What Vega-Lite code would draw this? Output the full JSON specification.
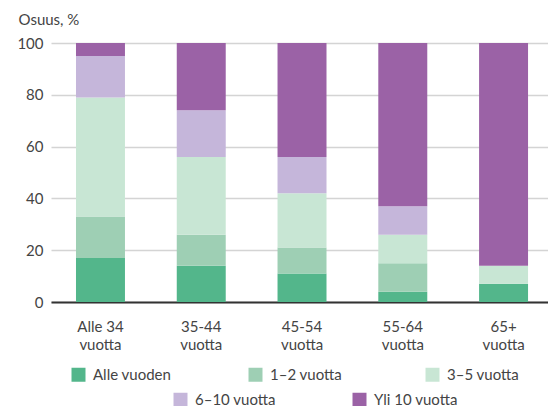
{
  "$schema": "https://vega.github.io/schema/vega-lite/v6.json",
  "width": 497,
  "height": 259,
  "autosize": {"type": "none"},
  "padding": {"left": 51, "top": 43, "right": 0, "bottom": 104},
  "background": "white",
  "config": {
    "view": {"stroke": null},
    "font": "Lato",
    "legend": {
      "symbolType": "square",
      "symbolSize": 196,
      "symbolStrokeWidth": 0,
      "labelFontSize": 15,
      "labelColor": "#444",
      "labelOffset": 7,
      "padding": 0
    }
  },
  "data": {
    "values": [
      {"age": "Alle 34 vuotta", "k": "Alle vuoden", "v": 17},
      {"age": "Alle 34 vuotta", "k": "1–2 vuotta", "v": 16},
      {"age": "Alle 34 vuotta", "k": "3–5 vuotta", "v": 46},
      {"age": "Alle 34 vuotta", "k": "6–10 vuotta", "v": 16},
      {"age": "Alle 34 vuotta", "k": "Yli 10 vuotta", "v": 5},
      {"age": "35-44 vuotta", "k": "Alle vuoden", "v": 14},
      {"age": "35-44 vuotta", "k": "1–2 vuotta", "v": 12},
      {"age": "35-44 vuotta", "k": "3–5 vuotta", "v": 30},
      {"age": "35-44 vuotta", "k": "6–10 vuotta", "v": 18},
      {"age": "35-44 vuotta", "k": "Yli 10 vuotta", "v": 26},
      {"age": "45-54 vuotta", "k": "Alle vuoden", "v": 11},
      {"age": "45-54 vuotta", "k": "1–2 vuotta", "v": 10},
      {"age": "45-54 vuotta", "k": "3–5 vuotta", "v": 21},
      {"age": "45-54 vuotta", "k": "6–10 vuotta", "v": 14},
      {"age": "45-54 vuotta", "k": "Yli 10 vuotta", "v": 44},
      {"age": "55-64 vuotta", "k": "Alle vuoden", "v": 4},
      {"age": "55-64 vuotta", "k": "1–2 vuotta", "v": 11},
      {"age": "55-64 vuotta", "k": "3–5 vuotta", "v": 11},
      {"age": "55-64 vuotta", "k": "6–10 vuotta", "v": 11},
      {"age": "55-64 vuotta", "k": "Yli 10 vuotta", "v": 63},
      {"age": "65+ vuotta", "k": "Alle vuoden", "v": 7},
      {"age": "65+ vuotta", "k": "1–2 vuotta", "v": 0},
      {"age": "65+ vuotta", "k": "3–5 vuotta", "v": 7},
      {"age": "65+ vuotta", "k": "6–10 vuotta", "v": 0},
      {"age": "65+ vuotta", "k": "Yli 10 vuotta", "v": 86}
    ]
  },
  "transform": [
    {"calculate": "indexof(['Alle vuoden','1–2 vuotta','3–5 vuotta','6–10 vuotta','Yli 10 vuotta'], datum.k)", "as": "ord"},
    {"stack": "v", "groupby": ["age"], "sort": [{"field": "ord", "order": "ascending"}], "as": ["y0", "y1"]}
  ],
  "encoding": {
    "x": {
      "field": "age",
      "type": "nominal",
      "sort": ["Alle 34 vuotta", "35-44 vuotta", "45-54 vuotta", "55-64 vuotta", "65+ vuotta"],
      "scale": {"paddingInner": 0.514, "paddingOuter": 0.223, "align": 0.556},
      "axis": {
        "title": null,
        "labelAngle": 0,
        "ticks": false,
        "domainColor": "#333",
        "domainWidth": 2,
        "labelFontSize": 15,
        "labelColor": "#444",
        "labelPadding": 17,
        "labelLineHeight": 18,
        "labelExpr": "[replace(datum.value, ' vuotta', ''), 'vuotta']"
      }
    },
    "y": {
      "field": "y0",
      "type": "quantitative",
      "scale": {"domain": [0, 100]},
      "axis": {
        "values": [0, 20, 40, 60, 80, 100],
        "title": "Osuus, %",
        "titleAngle": 0,
        "titleAlign": "left",
        "titleBaseline": "alphabetic",
        "titleX": -33,
        "titleY": -19,
        "titleFontWeight": "normal",
        "titleFontSize": 15,
        "titleColor": "#444",
        "domain": false,
        "ticks": false,
        "labelPadding": 8,
        "labelFontSize": 15,
        "labelColor": "#444",
        "gridColor": "#d4d4d4",
        "gridWidth": 1.5
      }
    },
    "y2": {"field": "y1"}
  },
  "layer": [
    {
      "transform": [{"filter": "datum.ord < 3"}],
      "mark": {"type": "bar"},
      "encoding": {
        "fill": {
          "field": "k",
          "type": "nominal",
          "scale": {"domain": ["Alle vuoden", "1–2 vuotta", "3–5 vuotta"], "range": ["#53b68b", "#9ecfb4", "#c8e6d4"]},
          "legend": {"orient": "none", "legendX": 20, "legendY": 324, "direction": "horizontal", "columns": 3, "columnPadding": 76, "gridAlign": "all", "title": null}
        }
      }
    },
    {
      "transform": [{"filter": "datum.ord >= 3"}],
      "mark": {"type": "bar"},
      "encoding": {
        "fill": {
          "field": "k",
          "type": "nominal",
          "scale": {"domain": ["6–10 vuotta", "Yli 10 vuotta"], "range": ["#c5b6da", "#9b62a6"]},
          "legend": {"orient": "none", "legendX": 122, "legendY": 349, "direction": "horizontal", "columns": 2, "columnPadding": 73, "gridAlign": "all", "title": null}
        }
      }
    }
  ],
  "resolve": {"scale": {"fill": "independent"}, "legend": {"fill": "independent"}}
}
